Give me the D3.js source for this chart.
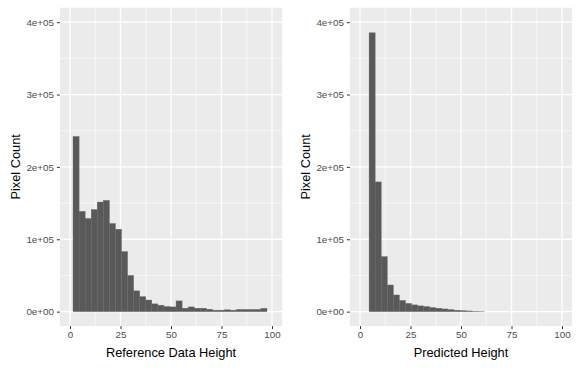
<!DOCTYPE html>
<html>
<head>
<meta charset="utf-8">
<script src="https://cdn.jsdelivr.net/npm/d3@7"></script>
<style>
    html, body { margin: 0; padding: 0; background: #fff; }
    svg { display: block; font-family: "Liberation Sans", Arial, sans-serif; }
</style>
</head>
<body>
<div id="chart"></div>
<script>
// histogram bins are 3 units wide; first bin left edge given per panel
const binWidth = 3;
const refStart = 1.5;
const predStart = 4.5;

const refCounts = [
    242000, 138500, 128700, 141000, 151400, 153700, 121800, 113900,
    82900, 50000, 28700, 20700, 16000, 10700, 8900, 7000,
    6500, 14800, 4700, 6500, 4700, 4700, 3300, 2000,
    2000, 2500, 2000, 3000, 3000, 3000, 3000, 4500
];

const predCounts = [
    385300, 179200, 76000, 36800, 23000, 15500, 11400, 9300,
    7900, 7000, 5600, 4700, 3700, 2800, 1900, 1400,
    900, 500, 200
];

const xTicks = [0, 25, 50, 75, 100];
const xMinor = [12.5, 37.5, 62.5, 87.5];
const yTicks = [0, 100000, 200000, 300000, 400000];
const yTickLabels = ['0e+00', '1e+05', '2e+05', '3e+05', '4e+05'];
const yMinor = [50000, 150000, 250000, 350000];

const panels = [
    { title: 'Reference Data Height', start: refStart, counts: refCounts, offset: 0 },
    { title: 'Predicted Height', start: predStart, counts: predCounts, offset: 290 }
];

class HistPanel {
    static draw(svg, p) {
        const g = svg.append('g').attr('transform', `translate(${p.offset},0)`);
        const x = d3.scaleLinear().domain([-5, 105]).range([59.9, 282.1]);
        const y = d3.scaleLinear().domain([-20000, 420000]).range([326.1, 7.7]);
        const [x0, x1] = x.range();
        const [yb, yt] = y.range();

        g.append('rect')
            .attr('x', x0).attr('y', yt)
            .attr('width', x1 - x0).attr('height', yb - yt)
            .attr('fill', '#ebebeb');

        // minor then major grid
        g.selectAll('.xminor').data(xMinor).enter().append('line')
            .attr('x1', d => x(d)).attr('x2', d => x(d))
            .attr('y1', yt).attr('y2', yb)
            .attr('stroke', '#fff').attr('stroke-width', 0.6);
        g.selectAll('.yminor').data(yMinor).enter().append('line')
            .attr('y1', d => y(d)).attr('y2', d => y(d))
            .attr('x1', x0).attr('x2', x1)
            .attr('stroke', '#fff').attr('stroke-width', 0.6);
        g.selectAll('.xmajor').data(xTicks).enter().append('line')
            .attr('x1', d => x(d)).attr('x2', d => x(d))
            .attr('y1', yt).attr('y2', yb)
            .attr('stroke', '#fff').attr('stroke-width', 1.3);
        g.selectAll('.ymajor').data(yTicks).enter().append('line')
            .attr('y1', d => y(d)).attr('y2', d => y(d))
            .attr('x1', x0).attr('x2', x1)
            .attr('stroke', '#fff').attr('stroke-width', 1.3);

        const bins = p.counts.map((c, i) => ({ lo: p.start + i * binWidth, hi: p.start + (i + 1) * binWidth, count: c }));
        g.selectAll('.bar').data(bins).enter().append('rect')
            .attr('x', d => x(d.lo))
            .attr('width', d => x(d.hi) - x(d.lo))
            .attr('y', d => y(d.count))
            .attr('height', d => y(0) - y(d.count))
            .attr('fill', '#595959')
            .attr('stroke', '#676767')
            .attr('stroke-width', 0.4);

        // axes
        const xAxis = g.append('g').attr('transform', `translate(0,${yb})`)
            .call(d3.axisBottom(x).tickValues(xTicks).tickSize(3).tickPadding(2).tickFormat(d3.format('d')));
        const yAxis = g.append('g').attr('transform', `translate(${x0},0)`)
            .call(d3.axisLeft(y).tickValues(yTicks).tickSize(3).tickPadding(3).tickFormat((d, i) => yTickLabels[i]));
        [xAxis, yAxis].forEach(a => {
            a.select('.domain').remove();
            a.selectAll('line').attr('stroke', '#333').attr('stroke-width', 1);
            a.selectAll('text').attr('fill', '#4d4d4d').style('font-size', '9.8px')
                .style('font-family', '"Liberation Sans", Arial, sans-serif');
        });

        g.append('text')
            .attr('x', (x0 + x1) / 2).attr('y', 357)
            .attr('text-anchor', 'middle')
            .style('font-size', '12.8px').attr('fill', '#000')
            .text(p.title);

        g.append('text')
            .attr('transform', `translate(20,${(yt + yb) / 2}) rotate(-90)`)
            .attr('text-anchor', 'middle')
            .style('font-size', '12.8px').attr('fill', '#000')
            .text('Pixel Count');
    }
}

const svg = d3.select('#chart').append('svg').attr('width', 581).attr('height', 368);
panels.forEach(p => HistPanel.draw(svg, p));
</script>
</body>
</html>
